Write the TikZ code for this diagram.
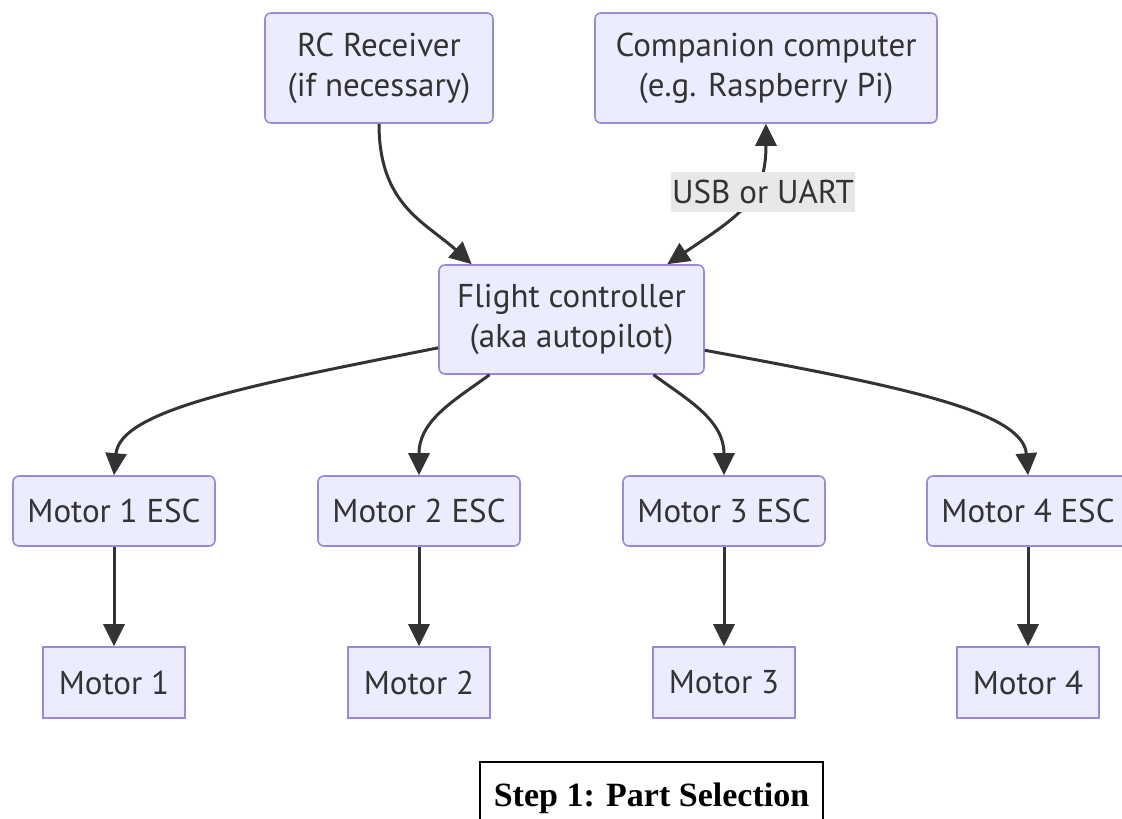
\documentclass[tikz,border=0pt]{standalone}
\usepackage{fontspec}
\setmainfont{Liberation Serif}
\newfontfamily\chartfont{PT Sans}
\usetikzlibrary{arrows.meta}
\definecolor{boxfill}{HTML}{ECECFF}
\definecolor{boxline}{HTML}{9A88D8}
\definecolor{inkgray}{HTML}{333333}
\definecolor{labelbg}{HTML}{E8E8E8}

\begin{document}
\begin{tikzpicture}[x=1pt,y=-1pt]
        \tikzstyle{every node}+=[inner sep=0pt, text=inkgray, font=\chartfont\fontsize{33}{40}\selectfont]
        \tikzstyle{rbox}=[draw=boxline, fill=boxfill, line width=1.6pt, rounded corners=6pt, align=center]
        \tikzstyle{sbox}=[draw=boxline, fill=boxfill, line width=1.6pt, minimum width=142pt, minimum height=71pt]
        \tikzstyle{link}=[draw=inkgray, line width=3pt, -{Triangle[length=22pt,width=21pt]}]
        \tikzstyle{bothlink}=[draw=inkgray, line width=3pt, {Triangle[length=22pt,width=21pt]}-{Triangle[length=22pt,width=21pt]}]
        \useasboundingbox (0,0) rectangle (1122,819);
        % top row
        \node [rbox, minimum width=228pt, minimum height=110pt] (rc) at (379,68) {RC Receiver\\(if necessary)};
        \node [rbox, minimum width=342pt, minimum height=110pt] (comp) at (766,68) {Companion computer\\(e.g. Raspberry Pi)};
        \node [rbox, minimum width=265pt, minimum height=109pt] (fc) at (571.5,319.5) {Flight controller\\(aka autopilot)};
        % ESC row
        \node [rbox, minimum width=202pt, minimum height=70pt] (esc1) at (114,511) {Motor 1 ESC};
        \node [rbox, minimum width=202pt, minimum height=70pt] (esc2) at (419,511) {Motor 2 ESC};
        \node [rbox, minimum width=202pt, minimum height=70pt] (esc3) at (724,511) {Motor 3 ESC};
        \node [rbox, minimum width=202pt, minimum height=70pt] (esc4) at (1028,511) {Motor 4 ESC};
        % motor row
        \node [sbox] (m1) at (114,682.5) {Motor 1};
        \node [sbox] (m2) at (419,682.5) {Motor 2};
        \node [sbox] (m3) at (724,682.5) {Motor 3};
        \node [sbox] (m4) at (1028,682.5) {Motor 4};
        % edges
        \draw [link] (rc.south) .. controls (379,205) and (425,222) .. (fc.151);
        \draw [bothlink] (comp.south) .. controls (766,200) and (740,215) .. (fc.30);
        \node [fill=labelbg, minimum width=184pt, minimum height=40pt] (usb) at (763,192) {USB or UART};
        \draw [link] (fc.192) .. controls (250,385) and (120,410) .. (esc1.north);
        \draw [link] (fc.214) .. controls (455,400) and (419,420) .. (esc2.north);
        \draw [link] (fc.326) .. controls (688,400) and (724,420) .. (esc3.north);
        \draw [link] (fc.347) .. controls (893,385) and (1023,410) .. (esc4.north);
        \draw [link] (esc1.south) -- (m1.north);
        \draw [link] (esc2.south) -- (m2.north);
        \draw [link] (esc3.south) -- (m3.north);
        \draw [link] (esc4.south) -- (m4.north);
        % caption box
        \node [draw=black, line width=2pt, minimum width=343pt, minimum height=72pt, anchor=north west, text=black,
               font=\rmfamily\bfseries\fontsize{34}{40}\selectfont] (step) at (479,761) {Step 1: Part Selection};
\end{tikzpicture}
\end{document}
